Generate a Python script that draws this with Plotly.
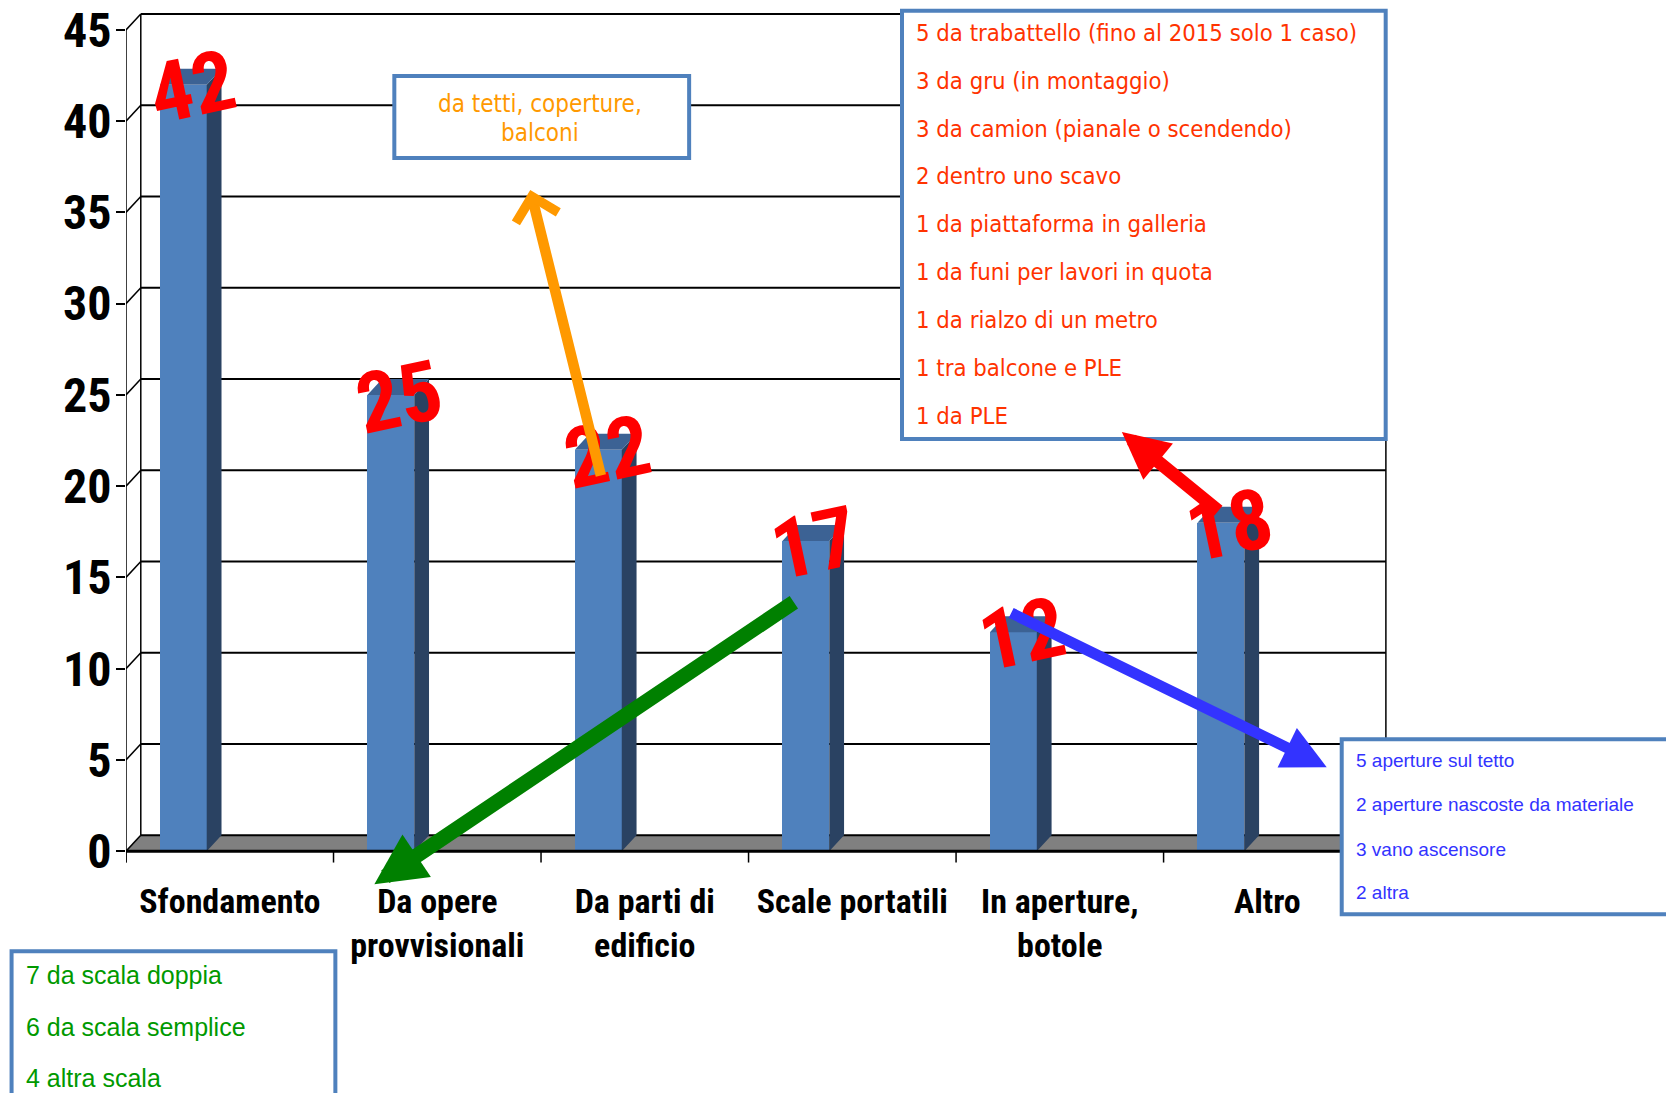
import plotly.graph_objects as go

# ---------------- data ----------------
categories = ["Sfondamento", "Da opere<br>provvisionali", "Da parti di<br>edificio",
              "Scale portatili", "In aperture,<br>botole", "Altro"]
values = [42, 25, 22, 17, 12, 18]
y_ticks = [0, 5, 10, 15, 20, 25, 30, 35, 40, 45]

roof_notes = ["da tetti, coperture,", "balconi"]
other_notes = ["5 da trabattello (fino al 2015 solo 1 caso)", "3 da gru (in montaggio)",
               "3 da camion (pianale o scendendo)", "2 dentro uno scavo",
               "1 da piattaforma in galleria", "1 da funi per lavori in quota",
               "1 da rialzo di un metro", "1 tra balcone e PLE", "1 da PLE"]
opening_notes = ["5 aperture sul tetto", "2 aperture nascoste da materiale",
                 "3 vano ascensore", "2 altra"]
ladder_notes = ["7 da scala doppia", "6 da scala semplice", "4 altra scala"]

# ---------------- geometry / style ----------------
OFF = 8                 # page body margin
W, H = 1658, 1085       # figure size (fits the window with the body margin)
X_AXIS_PX = 125.5       # window pixel of x = -0.5 (front axis)
CAT_PX = 207.65         # pixels per category
Y0_PX = 851.0           # window pixel of y = 0
UNIT_PX = 18.244        # pixels per y unit
XMIN, XMAX = -0.5, 5.62
YMIN, YMAX = -0.7, 46.2

L = X_AXIS_PX - OFF
PW = (XMAX - XMIN) * CAT_PX
R = W - L - PW
T = max(0.0, (Y0_PX - OFF) - YMAX * UNIT_PX)
PH = (Y0_PX - OFF) - T - YMIN * UNIT_PX
B = H - T - PH

DX = 14.8 / CAT_PX
DY = 16.0 / UNIT_PX
BAR_OFF = -0.224
BAR_W = 0.226
NCAT = len(categories)

FRONT = "#4F81BD"
SIDE = "#2A4262"
TOP = "#3C6294"
BOXLINE = "#4F81BD"
NARROW = "Roboto Condensed, Liberation Sans Narrow, Roboto, DejaVu Sans Condensed, sans-serif"
TAHOMA = "DejaVu Sans Condensed, Tahoma, sans-serif"
ARIAL = "Liberation Sans, Arial, sans-serif"


def paper(xp, yp):
    """window pixel -> paper coordinates"""
    fx, fy = xp - OFF, yp - OFF
    return (fx - L) / PW, ((T + PH) - fy) / PH


fig = go.Figure()

# front faces of bars
xs = [i + BAR_OFF for i in range(NCAT)]
fig.add_trace(go.Bar(x=xs, y=values, width=BAR_W,
                     marker=dict(color=FRONT, line=dict(width=0)),
                     hoverinfo="skip", showlegend=False))

# side and top faces
side_x, side_y, top_x, top_y = [], [], [], []
for xc, v in zip(xs, values):
    lft, rgt = xc - BAR_W / 2, xc + BAR_W / 2
    side_x += [rgt, rgt, rgt + DX, rgt + DX, rgt, None]
    side_y += [0, v, v + DY, DY, 0, None]
    top_x += [lft, rgt, rgt + DX, lft + DX, lft, None]
    top_y += [v, v, v + DY, v + DY, v, None]
fig.add_trace(go.Scatter(x=side_x, y=side_y, mode="lines", fill="toself",
                         fillcolor=SIDE, line=dict(width=0, color=SIDE),
                         hoverinfo="skip", showlegend=False))
fig.add_trace(go.Scatter(x=top_x, y=top_y, mode="lines", fill="toself",
                         fillcolor=TOP, line=dict(width=0, color=TOP),
                         hoverinfo="skip", showlegend=False))

shapes = []
x_lo, x_hi = -0.5, NCAT - 0.5
# floor
shapes.append(dict(type="path", layer="below", xref="x", yref="y",
                   path=f"M{x_lo},0 L{x_hi},0 L{x_hi + DX},{DY} L{x_lo + DX},{DY} Z",
                   fillcolor="#808080", line=dict(width=0)))
# back wall grid lines and left wall diagonals
for v in y_ticks:
    shapes.append(dict(type="line", layer="below", xref="x", yref="y",
                       x0=x_lo + DX, x1=x_hi + DX, y0=v + DY, y1=v + DY,
                       line=dict(color="black", width=2)))
    shapes.append(dict(type="line", layer="below", xref="x", yref="y",
                       x0=x_lo, x1=x_lo + DX, y0=v, y1=v + DY,
                       line=dict(color="black", width=1.5)))
# back wall verticals
for xv in (x_lo + DX, x_hi + DX):
    shapes.append(dict(type="line", layer="below", xref="x", yref="y",
                       x0=xv, x1=xv, y0=DY, y1=y_ticks[-1] + DY,
                       line=dict(color="black", width=1.5)))
# front axis
shapes.append(dict(type="line", layer="above", xref="x", yref="y",
                   x0=x_lo, x1=x_lo, y0=-0.62, y1=y_ticks[-1],
                   line=dict(color="black", width=1.5)))
# front floor edge
shapes.append(dict(type="line", layer="above", xref="x", yref="y",
                   x0=x_lo, x1=x_hi, y0=0, y1=0,
                   line=dict(color="black", width=3)))
# category ticks
for k in range(NCAT + 1):
    xb = x_lo + k
    shapes.append(dict(type="line", layer="above", xref="x", yref="y",
                       x0=xb, x1=xb, y0=0, y1=-0.62,
                       line=dict(color="black", width=1.5)))


# note boxes (window pixel rectangles)
def box(x0p, y0p, x1p, y1p, w=4):
    a0, b0 = paper(x0p, y1p)
    a1, b1 = paper(x1p, y0p)
    shapes.append(dict(type="rect", layer="above", xref="paper", yref="paper",
                       x0=a0, y0=b0, x1=a1, y1=b1, fillcolor="white",
                       line=dict(color=BOXLINE, width=w)))


box(394, 76, 689, 158, 4)
box(902, 11, 1386, 439, 4)
box(1342, 739, 1700, 914, 4)
box(11, 951, 335, 1120, 4)

annotations = []
# value labels
for xc, v in zip(xs, values):
    annotations.append(dict(x=xc + 0.043, y=v - 0.15, xref="x", yref="y", text=str(v),
                            showarrow=False, xanchor="center", yanchor="middle",
                            textangle=-12,
                            font=dict(family=NARROW, size=84, color="#FF0000", weight="bold")))


# arrows (head tip, tail in window pixels)
def arrow(head, tail, color, width, head_style, size):
    hx, hy = paper(*head)
    annotations.append(dict(x=hx, y=hy, xref="paper", yref="paper", text="",
                            showarrow=True, ax=tail[0] - head[0], ay=tail[1] - head[1],
                            axref="pixel", ayref="pixel",
                            arrowhead=head_style, arrowsize=size, arrowwidth=width,
                            arrowcolor=color, standoff=0, startstandoff=0))


arrow((530, 190), (601, 477), "#FF9900", 10.5, 4, 0.8)
arrow((374, 884), (795, 601), "#008000", 15, 2, 0.68)
arrow((1327, 767), (1010, 612), "#3333FF", 11, 2, 0.8)
arrow((1122, 432), (1220, 512), "#FF0000", 13, 2, 0.72)


# box texts
def lines(items, x_px, y_list, color, family, size, anchor="left"):
    for txt, yp in zip(items, y_list):
        a, bb = paper(x_px, yp)
        annotations.append(dict(x=a, y=bb, xref="paper", yref="paper", text=txt,
                                showarrow=False, xanchor=anchor, yanchor="middle",
                                font=dict(family=family, size=size, color=color)))


lines(roof_notes, 540, [103.6, 133.5], "#FF9900", TAHOMA, 24, "center")
lines(other_notes, 914, [33.1 + 47.8 * k for k in range(len(other_notes))], "#FF3300", TAHOMA, 23.7)
lines(opening_notes, 1354, [760, 804, 849, 892.5], "#3333FF", ARIAL, 19)
lines(ladder_notes, 23, [975, 1027, 1078], "#009900", ARIAL, 25)

fig.update_layout(
    width=W, height=H,
    margin=dict(l=L, r=R, t=T, b=B, pad=0, autoexpand=False),
    paper_bgcolor="white", plot_bgcolor="white",
    showlegend=False, bargap=0,
    shapes=shapes, annotations=annotations,
    xaxis=dict(range=[XMIN, XMAX], tickvals=list(range(NCAT)), ticktext=categories,
               showgrid=False, zeroline=False, showline=False, ticks="",
               tickangle=0, automargin=False, ticklabelstandoff=14,
               tickfont=dict(family=NARROW, size=34, color="black", weight="bold")),
    yaxis=dict(range=[YMIN, YMAX], tickvals=y_ticks, ticktext=[str(v) for v in y_ticks],
               showgrid=False, zeroline=False, showline=False, ticks="outside",
               ticklen=9, tickwidth=2, tickcolor="black", ticklabelstandoff=-5,
               ticklabeloverflow="allow", automargin=False,
               tickfont=dict(family=NARROW, size=48, color="black", weight="bold")),
)

fig.write_html("out.html")
